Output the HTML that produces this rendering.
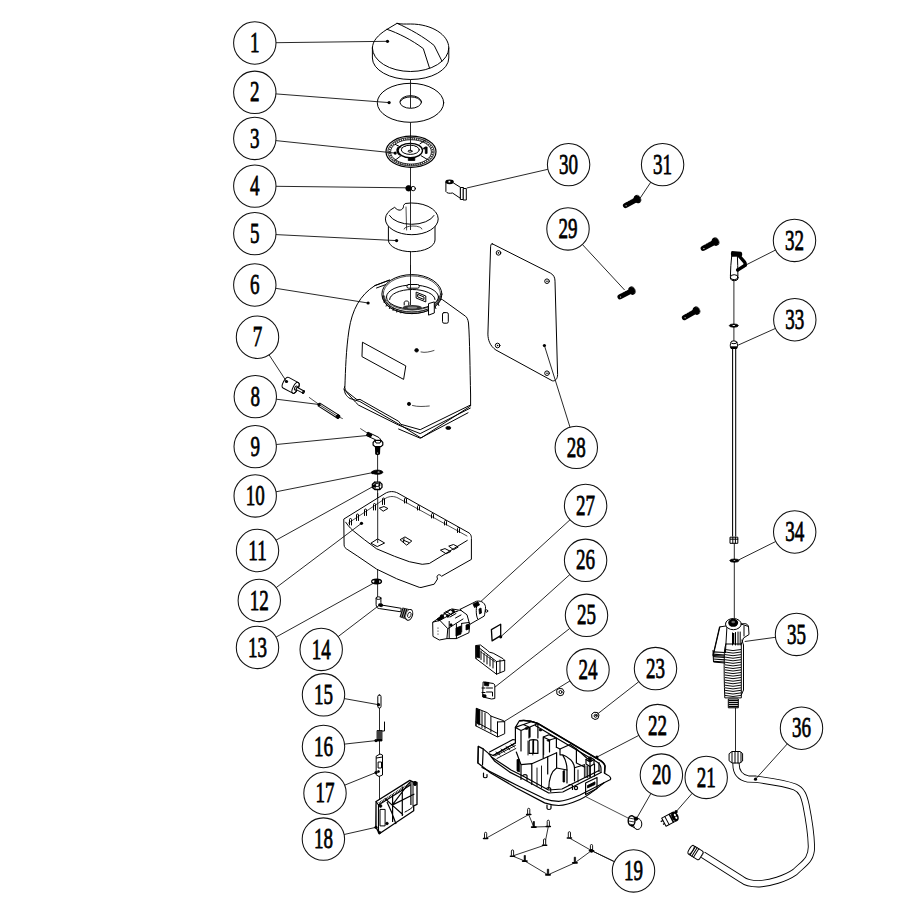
<!DOCTYPE html>
<html><head><meta charset="utf-8"><title>Sprayer parts diagram</title>
<style>html,body{margin:0;padding:0;background:#fff;width:908px;height:907px;overflow:hidden}svg{display:block}</style>
</head><body>
<svg width="908" height="907" viewBox="0 0 908 907">
<style>
.c{fill:none;stroke:#111;stroke-width:1.05}
.t{font-family:"Liberation Serif",serif;font-size:30px;text-anchor:middle;fill:#000;stroke:#000;stroke-width:0.8}
.l{stroke:#111;stroke-width:0.9;fill:none}
.d{fill:#000}
.p{fill:none;stroke:#000;stroke-width:1;stroke-linejoin:round;stroke-linecap:round}
.pw{fill:#fff;stroke:#000;stroke-width:1;stroke-linejoin:round;stroke-linecap:round}
.pt{fill:none;stroke:#000;stroke-width:0.7;stroke-linejoin:round;stroke-linecap:round}
.pk{fill:#000;stroke:#000;stroke-width:0.8}
.t22 .p,.t22 .pw{stroke-width:1.2}
.t22 .pt{stroke-width:0.9}
</style>
<rect width="908" height="907" fill="#fff"/>
<!-- central axis lines -->
<line x1="410.5" y1="78" x2="410.5" y2="290" class="l"/>
<line x1="377.6" y1="440" x2="377.6" y2="597" class="l"/>
<line x1="379.5" y1="700" x2="379.5" y2="800" class="l"/>
<line x1="733.9" y1="280" x2="733.9" y2="341" class="l"/>
<line x1="734.3" y1="543" x2="734.3" y2="618" class="l"/>
<line x1="735.5" y1="707" x2="735.5" y2="752" class="l"/>

<!-- PART 1 cap -->
<path class="pw" d="M372.4,48 L372.4,58 A38.2,21.5 0 0 0 448.8,58 L448.8,48 C448.8,35 432,24 410.6,24 C405,24 401,24.3 397.1,23.3 L387,29.3 C378,35 372.4,41 372.4,48 Z"/>
<path class="p" d="M372.4,48 A38.2,23.5 0 0 0 448.8,48"/>
<path class="p" d="M387,29.3 C398,33 412,40 423.3,48.6 L429.5,68"/>
<path class="p" d="M397.1,23.3 C410,29 424,37 434.2,45.5 L441.9,61"/>
<!-- PART 2 washer -->
<ellipse class="pw" cx="410.5" cy="102.8" rx="33.2" ry="19.5"/>
<ellipse class="p" cx="410.7" cy="102" rx="10.8" ry="6.3"/>
<path class="p" d="M400.6,101.2 A10.2,5 0 0 1 420.8,101.2"/>
<line x1="410.5" y1="83" x2="410.5" y2="108" class="l"/>

<!-- PART 3 -->
<ellipse class="pw" cx="411" cy="151.7" rx="25" ry="15.6" style="stroke-width:1.2"/>
<ellipse cx="411" cy="151.7" rx="23.2" ry="14.2" fill="none" stroke="#000" stroke-width="0.8"/>
<ellipse cx="411" cy="151.8" rx="21.7" ry="13.2" fill="none" stroke="#333" stroke-width="2" stroke-dasharray="1.2,1"/>
<ellipse cx="411" cy="151.9" rx="20.4" ry="12.2" fill="none" stroke="#000" stroke-width="0.8"/>
<ellipse class="p" cx="410.3" cy="150.5" rx="12.2" ry="7.2" style="stroke-width:1.3"/>
<ellipse class="p" cx="410.3" cy="149.8" rx="9" ry="4.6"/>
<ellipse class="p" cx="410.1" cy="151.2" rx="2" ry="1"/>
<path class="p" d="M395.3,144.4 L400.9,147.2 M420,143.8 L425,140.4 M400.9,155.8 L395.3,160.1 M421.2,155.8 L427.4,159.5"/>
<path class="pk" d="M408.3,157.7 h6.5 v2.8 h-6.5z"/>
<path class="pk" d="M423.5,148 L425.5,146.9 L427.1,147 L427.1,153.4 L425.3,153.4 L425.3,148.5 L423.8,149.2 Z"/>
<path d="M398.5,147 A12.2,7.2 0 0 0 400,155" fill="none" stroke="#000" stroke-width="1.6"/>
<circle cx="405" cy="146.5" r="0.6" class="d"/><circle cx="416" cy="146.5" r="0.6" class="d"/>
<line x1="410.5" y1="136" x2="410.5" y2="151" class="l"/>

<!-- PART 4 -->
<circle cx="408.6" cy="188.3" r="2.8" class="pk"/>
<circle cx="413.2" cy="188.6" r="2.2" class="p"/>

<!-- PART 30 clip -->
<path class="pw" d="M445.9,182 L445.9,191.5 C447,193.5 450,193.5 452.5,193 L460.7,198.5 L460.7,187.5 L453.5,183"/>
<ellipse cx="449.6" cy="181.8" rx="4.2" ry="2.4" fill="#000"/><rect x="448.5" y="180.8" width="1.8" height="1.6" fill="#fff"/>
<rect x="460.7" y="187.5" width="2.8" height="12" class="pw"/>
<rect x="463.5" y="188.5" width="2.8" height="11.5" class="pw"/>

<!-- PART 5 cup -->
<path class="pw" d="M388.4,224 L388.4,240 A23.3,11.7 0 0 0 435,240 L435,224 Z"/>
<path class="pw" d="M394.3,207.5 A26.4,15.8 0 0 0 385.4,218.9 A26.4,15.8 0 0 0 438.2,218.9 A26.4,15.8 0 0 0 405.2,203.5 L403.5,205.5 C404,209 400,212 396.5,209 Z"/>
<path class="p" d="M389.5,215.5 A23.3,12.5 0 0 0 434,215.5"/>
<path class="pt" d="M406,207 L406.6,230"/>
<path class="pt" d="M404,229 A9,3 0 0 1 422,229"/>
<line x1="410.5" y1="203" x2="410.5" y2="230" class="l"/>

<!-- PART 6 tank -->
<path class="pw" d="M374.7,285.7 C360,295 352,310 349,330 C346,350 345.5,370 344.9,386.5 L344.1,388.5 C344.5,393 346,396 350,398.5 L359.8,401.5 L401.1,425.5 L421,438 L470.6,406 L470.6,395 C470,370 469.8,340 468.5,323 C468,319 466.5,317 465.6,316.3 L442.5,299.7 L389.6,280.2 Z"/>
<path class="p" d="M344.6,386.6 C345,389 345.8,390.5 346.2,391.2 L357,399.7 L360,399.4 L363.1,401.2 L398.6,421.3 L400.9,424.3 L420.2,429.7 L470.3,405.1"/>
<path class="p" d="M344.3,389.6 L355.4,402 L358.5,405.1 L398.6,425.1 L420.2,433.6 L470.3,408.1"/>
<path class="p" d="M398.6,429 L420.2,438.2 L468,412.8"/>
<path class="p" d="M374.7,285.7 L389.6,280.2 M376.5,288 L390,283"/>
<ellipse class="pw" cx="411.9" cy="294.1" rx="30" ry="19.5"/>
<ellipse class="pt" cx="411.9" cy="294.1" rx="28.6" ry="18.2"/>
<path class="pt" d="M382.3,296 A29.6,17.6 0 0 0 441.5,296 M383.3,296 A28.6,15.8 0 0 0 440.5,296 M384.5,296 A27.4,14 0 0 0 439.3,296"/>
<path d="M385,300 L384,303 M387,303.5 L386,306.5 M390,306 L389.3,309 M393.5,308 L393,311 M397,309.5 L396.7,312.5 M401,310.5 L400.8,313.3 M431,308.5 L431.8,311.5 M435,306 L436,309 M438,303 L439,306" stroke="#000" stroke-width="0.9"/>
<ellipse class="p" cx="412.5" cy="297" rx="26" ry="12"/>
<path class="p" d="M389.6,299.5 A22.7,10 0 0 1 435,299.5"/>
<ellipse cx="412.3" cy="307.6" rx="9.5" ry="2.6" fill="#333"/>
<ellipse cx="412.3" cy="307.6" rx="5" ry="1.2" fill="#888"/>
<rect x="406.9" y="284.5" width="12.4" height="3.7" rx="1.8" class="pw"/>
<path class="p" d="M416.5,292.3 L425.8,296 L425.8,301.9 L416.5,298.2 Z M418,294.5 L424,297 L424,299.5 L418,297 Z"/>
<path class="pw" d="M428.9,303.5 L434.3,301.9 L434.3,313 L428.9,315 Z"/>
<path class="pw" d="M404.2,305 L404.2,302.5 C404.2,300.5 408.8,300.5 408.8,302.5 L408.8,305"/>
<rect x="442.5" y="312.6" width="5.8" height="10.6" rx="1.5" class="p"/>
<path class="p" d="M362.8,342.4 L405.8,365.9 L403.6,379.4 L362.3,356.8 Z"/>
<circle cx="416.6" cy="350.3" r="1.8" class="pk"/>
<path class="pt" d="M421,352 C425,353 430,351.8 434,350.5"/>
<circle cx="409" cy="403.9" r="1.6" class="pk"/>
<path class="pt" d="M412.5,405.5 C418,407 424,406.5 429.3,406"/>
<ellipse class="pk" cx="448.3" cy="427.9" rx="2.5" ry="1.5"/>
<line x1="410.5" y1="265" x2="410.5" y2="305" class="l"/>

<!-- PART 7 -->
<g transform="translate(292,386) rotate(28)">
<path class="pw" d="M-7,-6 L4,-6 A2.5,6 0 0 1 4,6 L-7,6 A2.5,6 0 0 1 -7,-6 Z"/>
<ellipse class="p" cx="4" cy="0" rx="2.5" ry="6"/>
<ellipse class="p" cx="4.5" cy="0" rx="1.3" ry="2.2"/>
<rect x="5" y="-1.2" width="8" height="2.4" class="pw"/>
<ellipse class="p" cx="13" cy="0" rx="0.8" ry="1.6"/>
</g>

<!-- PART 8 rod -->
<line x1="309.3" y1="397.5" x2="319" y2="404.5" class="pt"/>
<line x1="339" y1="417" x2="342.4" y2="418.5" class="pt"/>
<g transform="translate(319,404.5) rotate(32.5)">
<rect x="0" y="-1.7" width="23.5" height="3.4" class="pw"/>
<line x1="1" y1="0" x2="22" y2="0" class="pt"/>
<circle cx="22.5" cy="0" r="1.9" class="pk"/>
</g>

<!-- PART 9 elbow -->
<line x1="360.6" y1="428.7" x2="368" y2="433.5" class="pt"/>
<path class="pw" d="M368.3,432.3 L378,437 C380,438 380.8,439.5 380.8,441.5 L376.6,441.8 C376.6,440.8 376,440 375,439.5 L366.8,435.8 Z"/>
<path d="M367.5,432 L371.8,434.2 L370.4,437.4 L366.2,435.4 Z" fill="#000"/>
<path class="pw" d="M373.1,442.5 L375,440.4 L381,440.4 L382.8,442.5 L382.8,445 L381,446.6 L375,446.6 L373.1,445 Z" style="stroke-width:1.2"/>
<path class="p" d="M375,440.4 L376,443 L380,443 L381,440.4"/>
<path d="M374.9,446.6 L380.4,446.6 L380,454 C379,455.5 376,455.5 375.2,454 Z" fill="#000"/>
<circle cx="377.6" cy="453" r="0.6" fill="#fff"/>
<!-- PART 10 washer -->
<ellipse class="pk" cx="377.4" cy="472.2" rx="5.5" ry="2.1"/>
<ellipse cx="378.6" cy="472" rx="1.1" ry="0.55" fill="#fff"/>
<!-- PART 11 nut -->
<path class="pw" d="M372.4,484.3 L374.8,482.1 L379.8,482.1 L382,484.3 L382,487.4 L379.8,489.5 L374.8,489.5 L372.4,487.4 Z" style="stroke-width:1.3"/>
<ellipse class="p" cx="377.2" cy="485" rx="2.6" ry="1.5"/>
<path class="p" d="M374.8,482.1 L375.5,486 L374.8,489.5 M379.8,482.1 L379,486 L379.8,489.5"/>
<!-- PART 12 tray -->
<path class="pw" d="M344.1,518.9 L385,493.5 C389,491 394,491 398,493.2 L469,532.9 C472,535 471.4,539 471.4,539 L471.4,559.4 L441.5,576.3 C440,573.8 437,574.5 437,577 L437.5,579 L434.2,584.2 L421,587.5 L419.2,587.3 L398,579.3 L396.4,578.6 L376.6,569.1 L357.8,556.3 L347.9,549.8 C345.5,548.5 344.1,547 344.1,545.3 Z"/>
<path class="p" d="M345.7,522.2 C349,527 352,530 356,533 L364.7,539.9 L376.6,548.8 L394.5,556.3 L409.3,561.7 L422.2,564.3 L429.3,563.5 L467.3,540.4"/>
<path class="pt" d="M348.5,523 L386,498 C390,496 394,496 398,498 L467,536"/>
<g class="p">
<path d="M349.5,525 v-5.5 a1,1 0 0 1 2,0 v5.5 M356.5,520.5 v-5.5 a1,1 0 0 1 2,0 v5.5 M364.5,515.5 v-5.5 a1,1 0 0 1 2,0 v5.5 M373.5,510 v-5.5 a1,1 0 0 1 2,0 v5.5 M382.5,504.5 v-5.5 a1,1 0 0 1 2,0 v5.5"/>
<path d="M404.5,503 v-4 a1,1 0 0 1 2,0 v4 M417.5,510 v-3.5 a1,1 0 0 1 2,0 v3.5 M431.5,518 v-3.5 a1,1 0 0 1 2,0 v3.5 M444.5,525 v-3.5 a1,1 0 0 1 2,0 v3.5 M457.5,532.5 v-4 a1,1 0 0 1 2,0 v4"/>
</g>
<path class="p" d="M371.2,543 L377.6,538.9 L384.6,543 L377.6,546.4 Z"/>
<path class="p" d="M379.7,508 L384,506.5 L387.9,508.5 L383.5,511 Z"/>
<path class="p" d="M400.4,539.5 L405,536.9 L411.8,541 L407,544.9 Z M403,540 L409,542.5 M404,538.5 L403.5,542.5"/>
<path class="p" d="M440.8,550 L445,548.6 L450.8,551.5 L446.5,553.6 Z"/>
<path class="p" d="M449.1,546 L453.5,544.5 L458.2,547 L454,549.5 Z"/>
<line x1="377.7" y1="493" x2="377.7" y2="543" class="l"/>
<!-- PART 13 -->
<ellipse cx="376.6" cy="581.5" rx="4.8" ry="2.3" fill="#fff" stroke="#000" stroke-width="1.5"/>
<path d="M374.5,579.5 L379,579.5 L379.5,584 L374,584 Z" fill="#000"/>
<path d="M372.2,581.3 h2" stroke="#fff" stroke-width="0.8"/>
<!-- PART 14 hose elbow -->
<path class="pw" d="M376.1,598.2 L376.1,604.5 C376.3,607.5 377.5,608.5 379.5,608.6 L400.8,611.8 L401.2,608.3 L382.5,605.2 C381.2,604.8 380.9,603.8 380.9,602.5 L380.9,598.2 Z"/>
<ellipse class="pw" cx="378.5" cy="598.1" rx="2.4" ry="1.3"/>
<circle cx="381.2" cy="605.2" r="1.5" class="pk"/>
<g transform="translate(406.3,613.9) rotate(18)">
<path d="M-5.5,-5 L3,-5.5 L3,5.5 L-5.5,5 Z" fill="#000"/>
<ellipse cx="3" cy="0" rx="3.3" ry="5.6" fill="#fff" stroke="#000" stroke-width="1"/>
<ellipse cx="3.2" cy="0" rx="1.6" ry="2.8" fill="none" stroke="#000" stroke-width="0.8"/>
<path d="M-4,-4.6 v9 M-2,-4.8 v9.6 M0,-5 v10" stroke="#fff" stroke-width="0.5"/>
</g>
<!-- PART 15 pin -->
<rect x="377.8" y="695" width="3.2" height="13" rx="1.5" class="pw"/>
<!-- PART 16 spring -->
<path class="pk" d="M377,730.5 h5 v10.5 h-5 z"/>
<path d="M377,732 h5 M377,734 h5 M377,736 h5 M377,738 h5" stroke="#fff" stroke-width="0.5"/>
<path class="p" d="M382,731 L384.5,731 L384.5,722"/>
<!-- PART 17 -->
<path class="pw" d="M376.5,756 L380,754 L382.5,755 L382.5,775 L379,776.5 L376.5,775 Z"/>
<path class="p" d="M376.5,758 L382.5,757 M378.5,762 h3 v6 h-3z"/>
<circle cx="378.5" cy="771.5" r="1" class="pk"/>

<!-- PART 18 plate -->
<path class="pw" d="M376.1,801.5 L409.8,780.4 L413,781.8 L417,782.5 L417,804.4 L413.7,805.8 L413.7,810.8 L379.3,833.8 L375.7,826.6 Z" style="stroke-width:1.3"/>
<path class="p" d="M378.5,805 L410.5,785 M376.1,801.5 L378.5,805 L378.5,832" style="stroke-width:1.1"/>
<path d="M379,803.2 L410,783.6" stroke="#000" stroke-width="2" stroke-dasharray="0.8,0.9" fill="none"/>
<path d="M410.9,781 L410.9,805 M402.3,786.5 L402.3,816 M392.6,794.4 L392.6,822 M392.2,805.1 L409.8,782 M392.2,805.1 L414.4,794 M392.2,805.1 L403,814.8 M392.2,805.1 L385,798.5 M387,802 C392,812 394,818 396,824" stroke="#000" stroke-width="1.2" fill="none"/>
<path class="p" d="M413,781.8 L413,805.8 M405,812 C409,810 412,808 413.7,806"/>
<rect x="380.4" y="809.4" width="4.7" height="16.5" class="p"/>
<path d="M376.3,805 L376.3,826" stroke="#555" stroke-width="1.5"/>
<circle cx="380.5" cy="806" r="1.4" class="pk"/>
<circle cx="387" cy="823.5" r="1.3" class="pk"/>
<circle cx="379.5" cy="832.5" r="1.2" class="pk"/>
<ellipse cx="415" cy="783.5" rx="1.6" ry="2.2" class="pk"/>
<!-- PART 28 plate -->
<path class="p" d="M492.3,243.8 L550.6,273.2 C554,275 555,278 555,281.2 L557.6,374.6 C557.6,379 555,381.5 552.3,380.8 L495.9,350 C490,346 488,340 487.9,334.1 L490.6,246.8 C490.8,244 491.5,243.5 492.3,243.8 Z"/>
<circle cx="498.5" cy="252.9" r="2.3" class="p"/><circle cx="498.5" cy="252.9" r="0.8" class="d"/>
<circle cx="547" cy="281.2" r="2.3" class="p"/><circle cx="547" cy="281.2" r="0.8" class="d"/>
<circle cx="497.6" cy="345.5" r="2.3" class="p"/><circle cx="497.6" cy="345.5" r="0.8" class="d"/>
<circle cx="547" cy="373.2" r="2.3" class="p"/><circle cx="547" cy="373.2" r="0.8" class="d"/>

<!-- screws -->
<g transform="translate(620.1,296.7) rotate(-27.1) scale(1.029,1)">
<path d="M0,-2.6 L10.5,-2.6 L10.5,2.6 L0,2.6 A2.6,2.6 0 0 1 0,-2.6 Z" fill="#000"/>
<ellipse cx="13" cy="0" rx="3.3" ry="4.3" fill="#000"/>
<path d="M14.2,-3.6 A2,3.6 0 0 1 14.2,3.6" fill="none" stroke="#aaa" stroke-width="0.45"/>
<circle cx="0.3" cy="0.5" r="0.55" fill="#fff"/>
<path d="M3,-2.3 l0.8,-0.5 M5.5,-2.3 l0.8,-0.5 M8,-2.3 l0.8,-0.5" stroke="#fff" stroke-width="0.4"/>
</g>
<g transform="translate(625.6,205.5) rotate(-28.3) scale(1.039,1)">
<path d="M0,-2.6 L10.5,-2.6 L10.5,2.6 L0,2.6 A2.6,2.6 0 0 1 0,-2.6 Z" fill="#000"/>
<ellipse cx="13" cy="0" rx="3.3" ry="4.3" fill="#000"/>
<path d="M14.2,-3.6 A2,3.6 0 0 1 14.2,3.6" fill="none" stroke="#aaa" stroke-width="0.45"/>
<circle cx="0.3" cy="0.5" r="0.55" fill="#fff"/>
<path d="M3,-2.3 l0.8,-0.5 M5.5,-2.3 l0.8,-0.5 M8,-2.3 l0.8,-0.5" stroke="#fff" stroke-width="0.4"/>
</g>
<g transform="translate(703.4,248.3) rotate(-28.8) scale(1.071,1)">
<path d="M0,-2.6 L10.5,-2.6 L10.5,2.6 L0,2.6 A2.6,2.6 0 0 1 0,-2.6 Z" fill="#000"/>
<ellipse cx="13" cy="0" rx="3.3" ry="4.3" fill="#000"/>
<path d="M14.2,-3.6 A2,3.6 0 0 1 14.2,3.6" fill="none" stroke="#aaa" stroke-width="0.45"/>
<circle cx="0.3" cy="0.5" r="0.55" fill="#fff"/>
<path d="M3,-2.3 l0.8,-0.5 M5.5,-2.3 l0.8,-0.5 M8,-2.3 l0.8,-0.5" stroke="#fff" stroke-width="0.4"/>
</g>
<g transform="translate(684.6,317.5) rotate(-30.1) scale(1.058,1)">
<path d="M0,-2.6 L10.5,-2.6 L10.5,2.6 L0,2.6 A2.6,2.6 0 0 1 0,-2.6 Z" fill="#000"/>
<ellipse cx="13" cy="0" rx="3.3" ry="4.3" fill="#000"/>
<path d="M14.2,-3.6 A2,3.6 0 0 1 14.2,3.6" fill="none" stroke="#aaa" stroke-width="0.45"/>
<circle cx="0.3" cy="0.5" r="0.55" fill="#fff"/>
<path d="M3,-2.3 l0.8,-0.5 M5.5,-2.3 l0.8,-0.5 M8,-2.3 l0.8,-0.5" stroke="#fff" stroke-width="0.4"/>
</g>
<!-- PART 32 nozzle -->
<path class="pw" d="M731.7,256 C731,262 730.5,269 730.4,276 L737.9,276 C737.9,269 737.6,262 737.4,256 Z"/>
<path d="M731.8,251 L740.8,251.8 C742.5,252.2 742.6,255.5 741.5,256.5 L731.8,256.8 C730.6,255.5 730.6,252 731.8,251 Z" fill="#000"/>
<path d="M739.2,256 L744.6,262.2 C745.6,263.6 745.2,265.2 744,266 L738.3,269.6" fill="none" stroke="#000" stroke-width="3.4" stroke-linejoin="round" stroke-linecap="round"/>
<circle cx="737.6" cy="270" r="1.7" fill="#000"/>
<ellipse class="pw" cx="734.2" cy="277.2" rx="3.8" ry="2.5"/>
<path class="p" d="M730.4,277 L730.6,279 A3.7,2 0 0 0 737.9,279 L737.9,277"/>
<!-- PART 33 -->
<ellipse class="pk" cx="733.8" cy="325.6" rx="4.5" ry="1.6"/>
<ellipse cx="733.8" cy="325.6" rx="1.4" ry="0.5" fill="#fff"/>
<path class="pw" d="M731,342.5 C730,344 730,346.5 731,348.5 L736.8,348.5 C737.8,346.5 737.8,344 736.8,342.5 Z"/>
<ellipse class="pw" cx="733.9" cy="342.3" rx="3" ry="1.4"/>
<path d="M731,347.3 L737,347.3" stroke="#000" stroke-width="2"/>
<path d="M732.6,348.5 L732.6,536.5 M735.7,348.5 L735.7,536.5" stroke="#000" stroke-width="1.05" fill="none"/>
<path class="pw" d="M730.4,537.2 L737.8,537.2 L737.8,543.3 L730.4,543.3 Z"/>
<path class="p" d="M730.4,539.2 h7.4 M732.8,537.2 v6 M735.4,537.2 v6"/>
<!-- PART 34 -->
<ellipse class="pk" cx="734.4" cy="560.6" rx="4.6" ry="1.6"/>
<ellipse cx="734.4" cy="560.6" rx="1.1" ry="0.45" fill="#fff"/>

<!-- PART 35 gun -->
<path class="pw" d="M719.9,626.9 L727,625.8 L741.3,624.1 L748.5,626.5 L749,634.5 L743.5,638 L741.3,644 L741.3,697.9 L724.8,697.9 C724.2,685 724,668 724.3,656 L713.3,655.5 Z"/>
<path class="p" d="M727,625.8 L725.4,652.7 M719.9,626.9 L713.3,655.5"/>
<path d="M713,651.8 L724.8,652.5 M712.8,654.2 L724.8,655 M712.9,656.6 L724.8,657.4 M713.2,659 L724.8,659.8 M713.8,661.3 L724.5,662" stroke="#000" stroke-width="1.2"/>
<path class="p" d="M713,650.5 L713.5,662 L724.8,663"/>
<path class="p" d="M725.9,644 C724.5,648 724.3,652 724.3,656 M741.3,644 L725.9,644"/>
<path d="M725,649.5 Q733,651.7 741,649.5 M725,652.0 Q733,654.2 741,652.0 M725,654.6 Q733,656.8 741,654.6 M725,657.1 Q733,659.4 741,657.1 M725,659.7 Q733,661.9 741,659.7 M725,662.2 Q733,664.5 741,662.2 M725,664.8 Q733,667.0 741,664.8 M725,667.4 Q733,669.6 741,667.4 M725,669.9 Q733,672.1 741,669.9 M725,672.5 Q733,674.7 741,672.5 M725,675.0 Q733,677.2 741,675.0 M725,677.5 Q733,679.8 741,677.5 M725,680.1 Q733,682.3 741,680.1 M725,682.6 Q733,684.9 741,682.6 M725,685.2 Q733,687.4 741,685.2 M725,687.8 Q733,690.0 741,687.8 M725,690.3 Q733,692.5 741,690.3 M725,692.9 Q733,695.1 741,692.9 M725,695.4 Q733,697.6 741,695.4 " fill="none" stroke="#000" stroke-width="0.95"/>
<path class="p" d="M741.9,640 L743.5,645 L743.5,690 L741.3,695"/>
<path class="p" d="M741.3,624.1 C744,622.5 748.5,624 748.5,626.5 M744,626 L744,636"/>
<ellipse cx="733.4" cy="624.1" rx="7.9" ry="5.6" class="pw"/>
<ellipse cx="733.2" cy="622.8" rx="5" ry="4" fill="#000"/>
<ellipse cx="733.2" cy="622" rx="1.8" ry="1.2" fill="#666"/>
<path class="p" d="M732.5,632.9 L732.5,645 M735.5,632.5 L735.5,645 M738,632 L738,645 M740.2,632 L740.2,645"/>
<path d="M733.5,633 L733.5,644" stroke="#000" stroke-width="1.6"/>
<path class="pw" d="M728.7,699 L738.3,699 L738.3,707.8 L728.7,707.8 Z"/>
<path d="M728.7,700.6 h9.6 M728.7,702.6 h9.6 M728.7,704.6 h9.6 M728.7,706.6 h9.6" stroke="#000" stroke-width="1.1"/>
<!-- PART 36 hose -->
<path d="M736.1,762 C735.5,770 738,777 748,779 L755.9,779.2 C770,781 785,783 795,787 C802,790 804,796 806,805 C808,815 811,830 811.4,845.8 C812,860 803.5,863.5 795,872 C785,879 770,883 759.4,883.8 C750,884 745,882 741.7,879.4 L702.9,854.7" fill="none" stroke="#000" stroke-width="7.2" stroke-linejoin="round"/>
<path d="M736.1,762 C735.5,770 738,777 748,779 L755.9,779.2 C770,781 785,783 795,787 C802,790 804,796 806,805 C808,815 811,830 811.4,845.8 C812,860 803.5,863.5 795,872 C785,879 770,883 759.4,883.8 C750,884 745,882 741.7,879.4 L702.9,854.7" fill="none" stroke="#fff" stroke-width="5.4" stroke-linejoin="round"/>
<path class="pw" d="M729.4,753.5 L732,751.5 L740,751.5 L742.6,753.5 L742.6,761 L740,763 L732,763 L729.4,761 Z"/>
<path class="p" d="M732,752 v10.5 M735,751.5 v11.5 M738,751.5 v11.5 M741,752.5 v9.5"/>
<g transform="translate(697,853.5) rotate(32)">
<rect x="-7" y="-5" width="12" height="10" rx="2" class="pw"/>
<path class="p" d="M-5,-5 v10 M-3,-5 v10 M-1,-5 v10"/>
<ellipse class="pw" cx="-7" cy="0" rx="1.8" ry="5"/>
</g>
<!-- PART 19 pins -->
<path class="pt" style="stroke-width:0.8" d="M485.6,838.5 L528.7,814.6 L533.8,827 L548.3,826.6 L544.6,845.2 L512.5,856 L524.8,861 L548,874.8 L574.9,862.8 L591.5,850.6 L569.4,838 M591.5,850.6 L613.3,861.1"/>
<defs>
<g id="ph"><path d="M-1.1,-0.8 L-1.1,-5.6 A1.1,1.1 0 0 1 1.1,-5.6 L1.1,-0.8" fill="#fff" stroke="#000" stroke-width="0.9"/><path d="M-2.1,-0.4 h4.2" stroke="#000" stroke-width="1.5" stroke-linecap="round"/></g>
<g id="ps"><path d="M-0.7,-0.5 L-0.7,-6 L0.7,-6 L0.7,-0.5 Z" fill="#000" stroke="#000" stroke-width="0.6"/><path d="M-2.1,-0.4 h4.2" stroke="#000" stroke-width="1.8" stroke-linecap="round"/></g>
</defs>
<use href="#ph" x="485.6" y="839"/>
<use href="#ph" x="528.7" y="815"/>
<use href="#ps" x="533.8" y="827.5"/>
<use href="#ph" x="548.3" y="826.9"/>
<use href="#ph" x="544.6" y="845.6"/>
<use href="#ph" x="512.5" y="856.6"/>
<use href="#ps" x="524.8" y="861.5"/>
<use href="#ps" x="548" y="875.2"/>
<use href="#ps" x="574.9" y="863.2"/>
<use href="#ph" x="591.5" y="851.2"/>
<circle cx="591.5" cy="851" r="1.8" class="d"/>
<use href="#ph" x="569.4" y="838.4"/>
<!-- line tray->20 -->
<line x1="571.5" y1="789.5" x2="629" y2="818.5" class="pt"/>

<!-- PART 20 -->
<path class="pw" d="M632,815.8 L637.5,818.5 L637.5,829.5 L631,825.8 Z"/>
<ellipse cx="637.6" cy="824" rx="4.2" ry="5.5" fill="#fff" stroke="#000" stroke-width="1"/>
<ellipse cx="631.6" cy="820.8" rx="3.4" ry="5" fill="#fff" stroke="#000" stroke-width="1.4"/>
<path d="M629,818 L634,819 M628.5,821 L634.5,822 M629,824 L634,825" stroke="#000" stroke-width="0.8"/>
<circle cx="636" cy="818.6" r="1.6" class="pk"/>
<!-- PART 21 -->
<g transform="translate(670.5,818.7) rotate(-28)">
<rect x="-7.5" y="-4.6" width="11.5" height="9.2" class="pw"/>
<path d="M-7.5,-2 h-2.5 M-7.5,1.5 h-1.8" stroke="#000" stroke-width="1.3"/>
<path class="p" d="M-4,-4.6 v9.2"/>
<ellipse cx="5" cy="0" rx="3.4" ry="5.2" fill="#000"/>
<ellipse cx="5.6" cy="-1.2" rx="1" ry="1.3" fill="#fff"/>
<ellipse cx="5.6" cy="1.8" rx="1" ry="1.3" fill="#fff"/>
<path d="M1,-4.6 L1,4.6" stroke="#000" stroke-width="1.6"/>
</g>
<!-- PART 23 nut & small nut -->
<path class="pw" d="M592,714 L594,712.3 L597.5,712.5 L599,715 L598,718.5 L595,719.5 L592.2,718 Z"/>
<circle cx="595.6" cy="715.8" r="1.5" class="p"/>
<path class="pw" d="M557,690 L559,688.5 L562.5,688.8 L564,691.5 L563,694.8 L560,695.8 L557.3,694.3 Z"/>
<circle cx="560.5" cy="692" r="1.5" class="p"/>

<!-- PART 26 square -->
<path class="p" d="M491.4,629.6 L500.7,624.3 L500.7,635.6 L492.1,640.9 Z" style="stroke-width:1.3"/>

<!-- BAR (part 25 group) -->
<path class="pw" d="M476.1,645.5 L480.5,645 L487.6,650.5 L489.3,652.1 L493.2,653.2 L503.1,658.7 L504.7,660.4 L504.7,670.9 L496.5,674.2 L476.1,658.7 Z"/>
<path class="p" d="M476.1,645.5 L476.1,658.7 M478,647 L496.5,661.5 L504.7,660.4 M496.5,661.5 L496.5,674.2 M500,660 L500,672.5"/>
<path class="pk" d="M476.5,646 L479.5,645.8 L479.5,658 L476.5,657 Z"/>
<path class="p" d="M481,651 v8.5 M484,653.5 v8.5 M487,655.5 v8.5 M490,657.5 v8.5 M493,659.5 v8.5"/>
<path class="pt" d="M481,652 L495,662"/>

<!-- small block -->
<path class="pw" d="M483.5,682 L493.5,683.5 L494.8,685 L494.8,698.5 L491.5,699 L483,697 Z"/>
<path class="pk" d="M484.5,682 L489,682.5 L488.5,686 L484.5,685.5 Z"/>
<path class="p" d="M482,688 h3 M482,692.5 h3 M486.5,688 h6 M486.5,692 h6 v4"/>
<path class="pk" d="M483,694.5 L486,695 L486,697.5 L483,697 Z"/>

<!-- PART 24 holder -->
<path class="pw" d="M476.6,708.4 L487.6,712.8 L490.9,716.1 L503.1,720.5 L504.7,721.6 L504.7,733.7 L497.6,737 L476.1,726 Z"/>
<path class="p" d="M476.6,708.4 L476.1,726 M479,710 L479,725 M482,711.5 L482,727.5 M485,713 L485,729 M490.9,716.1 L490.9,732 M497.5,722 L497.5,736.5 M497.5,722 L504.7,721.6 M476.1,722 L497.5,733.5"/>
<path class="pk" d="M477,709 L479.8,710.3 L479.8,724.5 L477,723.5 Z"/>

<!-- PART 27 pump -->
<path class="pw" d="M460.4,609.2 L476.3,601.3 C482,600 486,604 485.5,608.2 C485,612 484.8,614.5 484.2,616.1 L469.7,624.4 C466,620 464,613 460.4,609.2 Z"/>
<path class="p" d="M477.6,602.9 C476,607 475.5,614 477.6,618.8"/>
<path class="pk" d="M473,604 L478,601.8 L479.5,605 L474.5,607.5 Z"/>
<path class="pk" d="M479,609 L481,608 L481.5,613 L479.5,614 Z"/>
<circle cx="486.5" cy="611" r="1.2" class="p"/>
<path class="pw" d="M433,622.1 L451.8,608.9 L461.1,610.5 L467,614.8 L469.7,624.4 L469,632.7 L456.4,638.6 L446.9,638.6 L439.3,640 L433.3,636.6 Z"/>
<path class="p" d="M433,622.1 L439.9,620.4 L447.8,628.7 L446.9,638.6 M439.9,620.4 L455,612 M447.8,628.7 L463,619 M449.2,621.4 L449.2,638 M456.4,624 L456.4,638.6 M461.7,623.4 L469,622.5 M461.7,623.4 L461.7,632"/>
<path class="pk" d="M437,619 L443,615 L444,617.5 L438.5,621 Z"/>
<path class="pk" d="M456,628 L461,626 L461,634 L456,636 Z"/>
<path class="p" d="M446,611.5 L452,615 M452,613 L458,611"/>
<circle cx="441.8" cy="616.3" r="1.6" class="pk"/>
<circle cx="447.8" cy="616" r="1.3" class="pk"/>
<circle cx="453" cy="610.6" r="1.2" class="pk"/>
<path class="p" d="M444,613 L450,609.5 L455,612 L449,615.5 Z M450,617 L456,613.5 M455.5,618 L461,615"/>
<circle cx="451" cy="625" r="1.2" class="pk"/>
<path class="pk" d="M466,625 L469,624 L469,629 L466,630 Z"/>
<circle cx="438" cy="628" r="0.6" class="d"/><circle cx="438" cy="631" r="0.6" class="d"/><circle cx="438" cy="634" r="0.6" class="d"/>

<g class="t22">
<!-- PART 22 tray -->
<path class="pw" d="M478.3,746.4 L483.2,748.9 L489,753.9 L493.2,755.5 L515.4,743 L515.4,727.4 L519.4,720.8 C522,720.4 530,720.3 537.9,723.5 L596,758 C601,760.5 604.5,762.5 605,766 L604.5,773.3 L607.5,775 C611,776.5 611.5,779.5 609.5,780 L604,782.8 C595,790 588,796 580,799.5 C572,803 566,805.5 558.7,805.5 C552,805.5 548,804 544.6,802.9 L516.3,788 L490.7,773 L477.9,763 Z"/>
<path style="fill:none;stroke:#000;stroke-width:1.5" d="M519.4,720.8 C522,720.4 530,720.3 537.9,723.5 L596,758 C601,760.5 604.5,762.5 605,766 L604.5,773.3"/>
<path class="p" d="M535.2,725.5 L597,762 C600,764 601,766 601,768.5 L601,772.5"/>
<!-- front rim -->
<path class="p" d="M489,753.9 L494.8,761.3 L509.7,772.1 L521.3,778 L548.7,793 L562.8,792 L586.2,780 L601,772.5"/>
<path class="p" d="M491.5,757 L511,770 L522,775.5 L548.5,790 L562,789 L586,777 L599,770.5"/>
<path class="p" d="M482,767.5 L516.3,785 L544.6,798.8 C549,800.6 553,801.3 558.7,801.3 C565,801 572,798.5 580,795 L604,782.8"/>
<path class="p" d="M478.3,746.4 L477.9,763 M483.2,748.9 L482.5,765"/>
<!-- left ramp -->
<path class="p" d="M493.2,755.5 L515.4,743 M489.5,752 L513,739.5 L515.4,740"/>
<path class="pt" d="M496,752 L500,755 M501,749 L505,752.5 M506,746.5 L510,750 M511,744 L514.5,747 M495,756 L515.4,745.5 M497,758.5 L515.8,748.5"/>
<!-- tall block left -->
<path class="p" d="M515.4,727.4 L523.3,724.5 L529,727 L529,738 M515.4,727.4 L521,730.5 L521,751 M521,730.5 L529,727 M523.5,724.5 L532,721.5 L537.9,723.5 L530,727 M530,727 L530,737 M537.9,723.5 L537.9,738"/>
<path class="p" d="M529.1,741.5 C529.1,739 537.9,739 537.9,741.5 L537.9,753.4 L529.1,753.4 Z M533.5,740.2 L533.5,753"/>
<ellipse class="pk" cx="526.5" cy="728.5" rx="1.5" ry="0.9"/>
<ellipse class="pk" cx="540.5" cy="730" rx="1.5" ry="0.9"/>
<!-- middle block -->
<path class="p" d="M543.2,737 L549,734.8 L556.4,738 L556.4,747.2 M543.2,737 L549.5,740 L556.4,738 M549.5,740 L549.5,752 M543.2,737 L543.2,758"/>
<ellipse class="pk" cx="548.5" cy="740.5" rx="1.4" ry="0.8"/>
<!-- compartments -->
<path class="p" d="M516.3,752 L521,764.7 L531.8,763.7 L547.7,756.8 L556.6,752.8 M521,764.7 L521,779.5 M531.8,763.7 L531.8,784.5"/>
<path class="p" d="M556.4,747.2 L560,749 L560,754.8 M560,754.8 L562.6,754.8 C569,757 574,762 574.5,767.7 L574.5,781 M562.6,754.8 C566,760 567,765 567,770 L567,783"/>
<path class="p" d="M556.6,752.8 L556.6,768 C552,771 549,776 548.7,788.5 M547.7,756.8 L547.7,774"/>
<path class="p" d="M560,749 L570,744.5 L576.4,748.9 L586.4,757.8 M576.4,748.9 L576.4,763 L584.4,767"/>
<path class="p" d="M574.5,767.7 L584.4,764.7 M567,770 L556.6,768"/>
<path d="M584.4,764.7 L584.4,777.6 M586,765.5 L586,778 M587.6,765.5 L587.6,778 M589.3,765.5 L589.3,777.6" stroke="#000" stroke-width="0.9"/>
<path class="p" d="M590.3,765 L590.3,777 M594.5,764 L594.5,776 M599,762.5 L599,771.5"/>
<path class="p" d="M523,775.6 a2,1 0 0 1 4,0 v5 M546.7,788.5 a2,1 0 0 1 4,0 v3 M568.5,785.5 a2,1 0 0 1 4,0 v4"/>
<path class="pt" d="M528,741 L528,755 M532.8,741 L532.8,755 M543.7,737 L543.7,754.8 M537,768 L537,786 M541.5,766 L541.5,788 M578,770 L578,782"/>
<path class="pk" d="M517,759.5 L519.4,759.5 L519.4,772 L517,771 Z M563,771 L564.6,770.6 L564.6,782 L563,782 Z"/>
<path class="pw" d="M586,759.5 L590,757 L594,759.5 L594,764 L590,766.5 L586,764 Z"/>
<path class="p" d="M586,759.5 L590,762 L594,759.5 M590,762 L590,766.5"/>
<circle cx="590" cy="759.5" r="1.8" class="pk"/>
<path class="p" d="M585.6,783 L597,777.5 L597,788.5 L585.6,794.5 Z"/>
<path class="pk" d="M587.5,785.5 L595,781.8 L595,784.5 L587.5,788 Z"/>
<circle cx="576" cy="788" r="1.6" class="p"/>
<path class="pw" d="M483.5,773 L483.5,777 A1.8,1 0 0 0 487,777 L487,774.5 M547,805 L547,808.3 A2,1.2 0 0 0 551,808.3 L551,805.5"/>

</g>

<circle cx="254.8" cy="43.0" r="21.2" class="c"/>
<text x="0" y="0" transform="translate(254.8,52.1) scale(0.635,1)" class="t">1</text>
<circle cx="254.8" cy="92.3" r="21.2" class="c"/>
<text x="0" y="0" transform="translate(254.8,101.39999999999999) scale(0.635,1)" class="t">2</text>
<circle cx="254.8" cy="138.4" r="21.2" class="c"/>
<text x="0" y="0" transform="translate(254.8,147.5) scale(0.635,1)" class="t">3</text>
<circle cx="254.8" cy="186.1" r="21.2" class="c"/>
<text x="0" y="0" transform="translate(254.8,195.2) scale(0.635,1)" class="t">4</text>
<circle cx="254.8" cy="233.6" r="21.2" class="c"/>
<text x="0" y="0" transform="translate(254.8,242.7) scale(0.635,1)" class="t">5</text>
<circle cx="254.8" cy="285.0" r="21.2" class="c"/>
<text x="0" y="0" transform="translate(254.8,294.1) scale(0.635,1)" class="t">6</text>
<circle cx="257.5" cy="337.2" r="21.2" class="c"/>
<text x="0" y="0" transform="translate(257.5,346.3) scale(0.635,1)" class="t">7</text>
<circle cx="255.3" cy="396.6" r="21.2" class="c"/>
<text x="0" y="0" transform="translate(255.3,405.70000000000005) scale(0.635,1)" class="t">8</text>
<circle cx="255.2" cy="446.6" r="21.2" class="c"/>
<text x="0" y="0" transform="translate(255.2,455.70000000000005) scale(0.635,1)" class="t">9</text>
<circle cx="255.2" cy="495.9" r="21.2" class="c"/>
<text x="0" y="0" transform="translate(255.2,505.0) scale(0.635,1)" class="t">10</text>
<circle cx="257.5" cy="550.5" r="21.2" class="c"/>
<text x="0" y="0" transform="translate(257.5,559.6) scale(0.635,1)" class="t">11</text>
<circle cx="259.3" cy="600.4" r="21.2" class="c"/>
<text x="0" y="0" transform="translate(259.3,609.5) scale(0.635,1)" class="t">12</text>
<circle cx="257.5" cy="647.4" r="21.2" class="c"/>
<text x="0" y="0" transform="translate(257.5,656.5) scale(0.635,1)" class="t">13</text>
<circle cx="321.2" cy="649.4" r="21.2" class="c"/>
<text x="0" y="0" transform="translate(321.2,658.5) scale(0.635,1)" class="t">14</text>
<circle cx="323.5" cy="694.8" r="21.2" class="c"/>
<text x="0" y="0" transform="translate(323.5,703.9) scale(0.635,1)" class="t">15</text>
<circle cx="323.5" cy="746.5" r="21.2" class="c"/>
<text x="0" y="0" transform="translate(323.5,755.6) scale(0.635,1)" class="t">16</text>
<circle cx="325.0" cy="793.2" r="21.2" class="c"/>
<text x="0" y="0" transform="translate(325.0,802.3000000000001) scale(0.635,1)" class="t">17</text>
<circle cx="323.4" cy="839.1" r="21.2" class="c"/>
<text x="0" y="0" transform="translate(323.4,848.2) scale(0.635,1)" class="t">18</text>
<circle cx="633.5" cy="870.9" r="21.2" class="c"/>
<text x="0" y="0" transform="translate(633.5,880.0) scale(0.635,1)" class="t">19</text>
<circle cx="661.4" cy="775.1" r="21.2" class="c"/>
<text x="0" y="0" transform="translate(661.4,784.2) scale(0.635,1)" class="t">20</text>
<circle cx="706.2" cy="777.4" r="21.2" class="c"/>
<text x="0" y="0" transform="translate(706.2,786.5) scale(0.635,1)" class="t">21</text>
<circle cx="657.6" cy="725.6" r="21.2" class="c"/>
<text x="0" y="0" transform="translate(657.6,734.7) scale(0.635,1)" class="t">22</text>
<circle cx="655.5" cy="668.6" r="21.2" class="c"/>
<text x="0" y="0" transform="translate(655.5,677.7) scale(0.635,1)" class="t">23</text>
<circle cx="588.0" cy="669.8" r="21.2" class="c"/>
<text x="0" y="0" transform="translate(588.0,678.9) scale(0.635,1)" class="t">24</text>
<circle cx="586.5" cy="615.3" r="21.2" class="c"/>
<text x="0" y="0" transform="translate(586.5,624.4) scale(0.635,1)" class="t">25</text>
<circle cx="585.6" cy="560.3" r="21.2" class="c"/>
<text x="0" y="0" transform="translate(585.6,569.4) scale(0.635,1)" class="t">26</text>
<circle cx="585.6" cy="505.5" r="21.2" class="c"/>
<text x="0" y="0" transform="translate(585.6,514.6) scale(0.635,1)" class="t">27</text>
<circle cx="576.3" cy="447.4" r="21.2" class="c"/>
<text x="0" y="0" transform="translate(576.3,456.5) scale(0.635,1)" class="t">28</text>
<circle cx="568.0" cy="228.9" r="21.2" class="c"/>
<text x="0" y="0" transform="translate(568.0,238.0) scale(0.635,1)" class="t">29</text>
<circle cx="568.6" cy="164.6" r="21.2" class="c"/>
<text x="0" y="0" transform="translate(568.6,173.7) scale(0.635,1)" class="t">30</text>
<circle cx="662.6" cy="164.6" r="21.2" class="c"/>
<text x="0" y="0" transform="translate(662.6,173.7) scale(0.635,1)" class="t">31</text>
<circle cx="794.5" cy="240.4" r="21.2" class="c"/>
<text x="0" y="0" transform="translate(794.5,249.5) scale(0.635,1)" class="t">32</text>
<circle cx="794.8" cy="319.7" r="21.2" class="c"/>
<text x="0" y="0" transform="translate(794.8,328.8) scale(0.635,1)" class="t">33</text>
<circle cx="794.7" cy="532.0" r="21.2" class="c"/>
<text x="0" y="0" transform="translate(794.7,541.1) scale(0.635,1)" class="t">34</text>
<circle cx="796.5" cy="634.4" r="21.2" class="c"/>
<text x="0" y="0" transform="translate(796.5,643.5) scale(0.635,1)" class="t">35</text>
<circle cx="801.5" cy="728.2" r="21.2" class="c"/>
<text x="0" y="0" transform="translate(801.5,737.3000000000001) scale(0.635,1)" class="t">36</text>
<line x1="276.0" y1="42.7" x2="387.5" y2="41.3" class="l"/>
<circle cx="387.5" cy="41.3" r="1.6" class="d"/>
<line x1="275.9" y1="93.9" x2="389.1" y2="102.6" class="l"/>
<circle cx="389.1" cy="102.6" r="1.6" class="d"/>
<line x1="275.9" y1="140.6" x2="395.2" y2="153.1" class="l"/>
<circle cx="395.2" cy="153.1" r="1.6" class="d"/>
<line x1="276.0" y1="186.3" x2="406" y2="187.8" class="l"/>
<line x1="276.0" y1="234.6" x2="396.6" y2="240.6" class="l"/>
<circle cx="396.6" cy="240.6" r="1.6" class="d"/>
<line x1="275.7" y1="288.3" x2="368.1" y2="303.0" class="l"/>
<circle cx="368.1" cy="303.0" r="1.6" class="d"/>
<line x1="269.1" y1="354.9" x2="286.5" y2="381.5" class="l"/>
<circle cx="286.5" cy="381.5" r="1.6" class="d"/>
<line x1="276.3" y1="399.2" x2="319" y2="404.5" class="l"/>
<circle cx="319" cy="404.5" r="1.6" class="d"/>
<line x1="276.3" y1="444.5" x2="370.5" y2="435.2" class="l"/>
<circle cx="370.5" cy="435.2" r="1.6" class="d"/>
<line x1="276.0" y1="491.8" x2="372.7" y2="472.6" class="l"/>
<circle cx="372.7" cy="472.6" r="1.6" class="d"/>
<line x1="276.0" y1="540.2" x2="373.8" y2="486.1" class="l"/>
<circle cx="373.8" cy="486.1" r="1.6" class="d"/>
<line x1="276.2" y1="587.6" x2="361.5" y2="523.3" class="l"/>
<circle cx="361.5" cy="523.3" r="1.6" class="d"/>
<line x1="276.0" y1="637.1" x2="376.5" y2="581.5" class="l"/>
<circle cx="376.5" cy="581.5" r="1.6" class="d"/>
<line x1="338.1" y1="636.6" x2="379.7" y2="604.9" class="l"/>
<circle cx="379.7" cy="604.9" r="1.6" class="d"/>
<line x1="344.4" y1="698.6" x2="378.5" y2="704.7" class="l"/>
<circle cx="378.5" cy="704.7" r="1.6" class="d"/>
<line x1="344.6" y1="744.1" x2="376" y2="740.6" class="l"/>
<circle cx="376" cy="740.6" r="1.6" class="d"/>
<line x1="344.6" y1="785.2" x2="376" y2="772.5" class="l"/>
<circle cx="376" cy="772.5" r="1.6" class="d"/>
<line x1="344.1" y1="834.5" x2="376" y2="827.3" class="l"/>
<circle cx="376" cy="827.3" r="1.6" class="d"/>
<line x1="614.4" y1="861.7" x2="591.3" y2="850.5" class="l"/>
<circle cx="591.3" cy="850.5" r="1.6" class="d"/>
<line x1="650.9" y1="793.5" x2="636.4" y2="818.8" class="l"/>
<circle cx="636.4" cy="818.8" r="1.6" class="d"/>
<line x1="692.2" y1="793.3" x2="676.1" y2="811.7" class="l"/>
<circle cx="676.1" cy="811.7" r="1.6" class="d"/>
<line x1="638.8" y1="735.4" x2="596.9" y2="757.1" class="l"/>
<circle cx="596.9" cy="757.1" r="1.6" class="d"/>
<line x1="638.8" y1="681.7" x2="595" y2="715.9" class="l"/>
<line x1="570.0" y1="680.9" x2="503.7" y2="721.8" class="l"/>
<line x1="569.8" y1="628.4" x2="494.8" y2="687.2" class="l"/>
<line x1="569.9" y1="574.5" x2="500.7" y2="636.8" class="l"/>
<circle cx="500.7" cy="636.8" r="1.6" class="d"/>
<line x1="570.0" y1="519.8" x2="480.8" y2="601.5" class="l"/>
<line x1="570.0" y1="427.2" x2="544.4" y2="345.5" class="l"/>
<circle cx="544.4" cy="345.5" r="1.6" class="d"/>
<line x1="582.4" y1="244.5" x2="624.6" y2="290.0" class="l"/>
<line x1="547.9" y1="169.3" x2="466.7" y2="188.0" class="l"/>
<line x1="650.8" y1="182.2" x2="639.7" y2="198.8" class="l"/>
<line x1="775.6" y1="250.0" x2="745.3" y2="265.3" class="l"/>
<circle cx="745.3" cy="265.3" r="1.6" class="d"/>
<line x1="775.5" y1="328.4" x2="737.3" y2="345.5" class="l"/>
<line x1="775.7" y1="541.5" x2="737.9" y2="560.3" class="l"/>
<line x1="775.5" y1="637.3" x2="744.7" y2="641.5" class="l"/>
<line x1="787.3" y1="743.9" x2="755.5" y2="779.2" class="l"/>
<circle cx="755.5" cy="779.2" r="1.6" class="d"/>
</svg>
</body></html>
